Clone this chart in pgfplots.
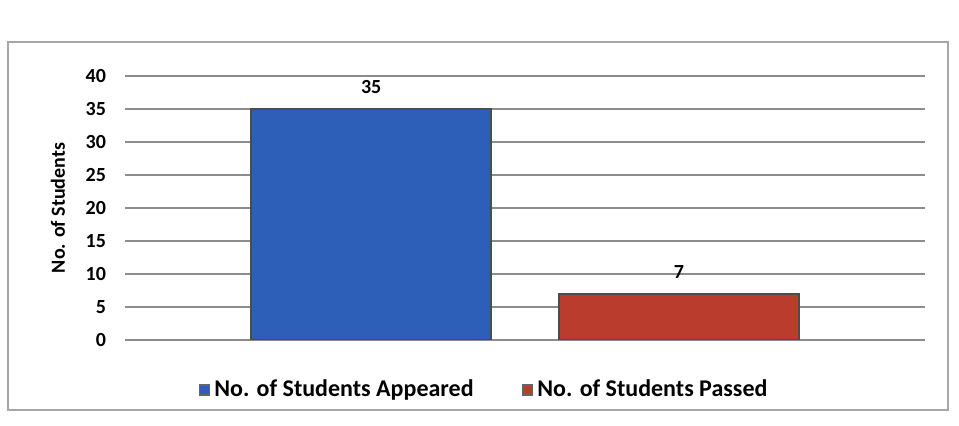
\documentclass[border=0pt]{standalone}
\usepackage{pgfplots}
\pgfplotsset{compat=1.18}
\usepackage{fontspec}
\setmainfont{Carlito}
\definecolor{barblue}{RGB}{45,95,185}
\definecolor{barred}{RGB}{185,60,45}
\begin{document}
\begin{tikzpicture}
\path[use as bounding box] (0,0) rectangle (479.5pt,213pt);
\draw[black!35,line width=0.6pt] (4pt,8pt) rectangle (474pt,192pt);
\begin{axis}[
  at={(62.5pt,43pt)}, anchor=south west,
  scale only axis, width=400pt, height=132pt,
  ybar, bar width=0.78, bar shift=0pt,
  xmin=-0.8, xmax=1.8, ymin=0, ymax=40,
  ytick={0,5,...,40}, xtick=\empty,
  axis line style={draw=none}, tick style={draw=none},
  ymajorgrids, grid style={black!45,line width=0.6pt},
  yticklabel style={font=\fontsize{10}{12}\selectfont\bfseries, xshift=-6pt},
  /pgf/number format/assume math mode=true,
  ylabel={\bfseries No. of Students}, ylabel style={font=\fontsize{10}{12}\selectfont, at={(axis description cs:-0.066,0.5)}},
  nodes near coords, every node near coord/.append style={font=\fontsize{10}{12}\selectfont\bfseries, black, yshift=4pt},
  legend style={at={(0.45,-0.12)}, anchor=north, draw=none, legend columns=2,
    font=\fontsize{12}{14}\selectfont\bfseries, /tikz/every even column/.append style={column sep=22pt}},
  legend image code/.code={\draw[#1,draw=black!60] (0cm,-0.09cm) rectangle (0.18cm,0.09cm);},
]
\addplot[fill=barblue, draw=black!70, line width=0.8pt] coordinates {(0,35)};
\addplot[fill=barred, draw=black!70, line width=0.8pt] coordinates {(1,7)};
\legend{No. of Students Appeared, No. of Students Passed}
\end{axis}
\end{tikzpicture}
\end{document}
